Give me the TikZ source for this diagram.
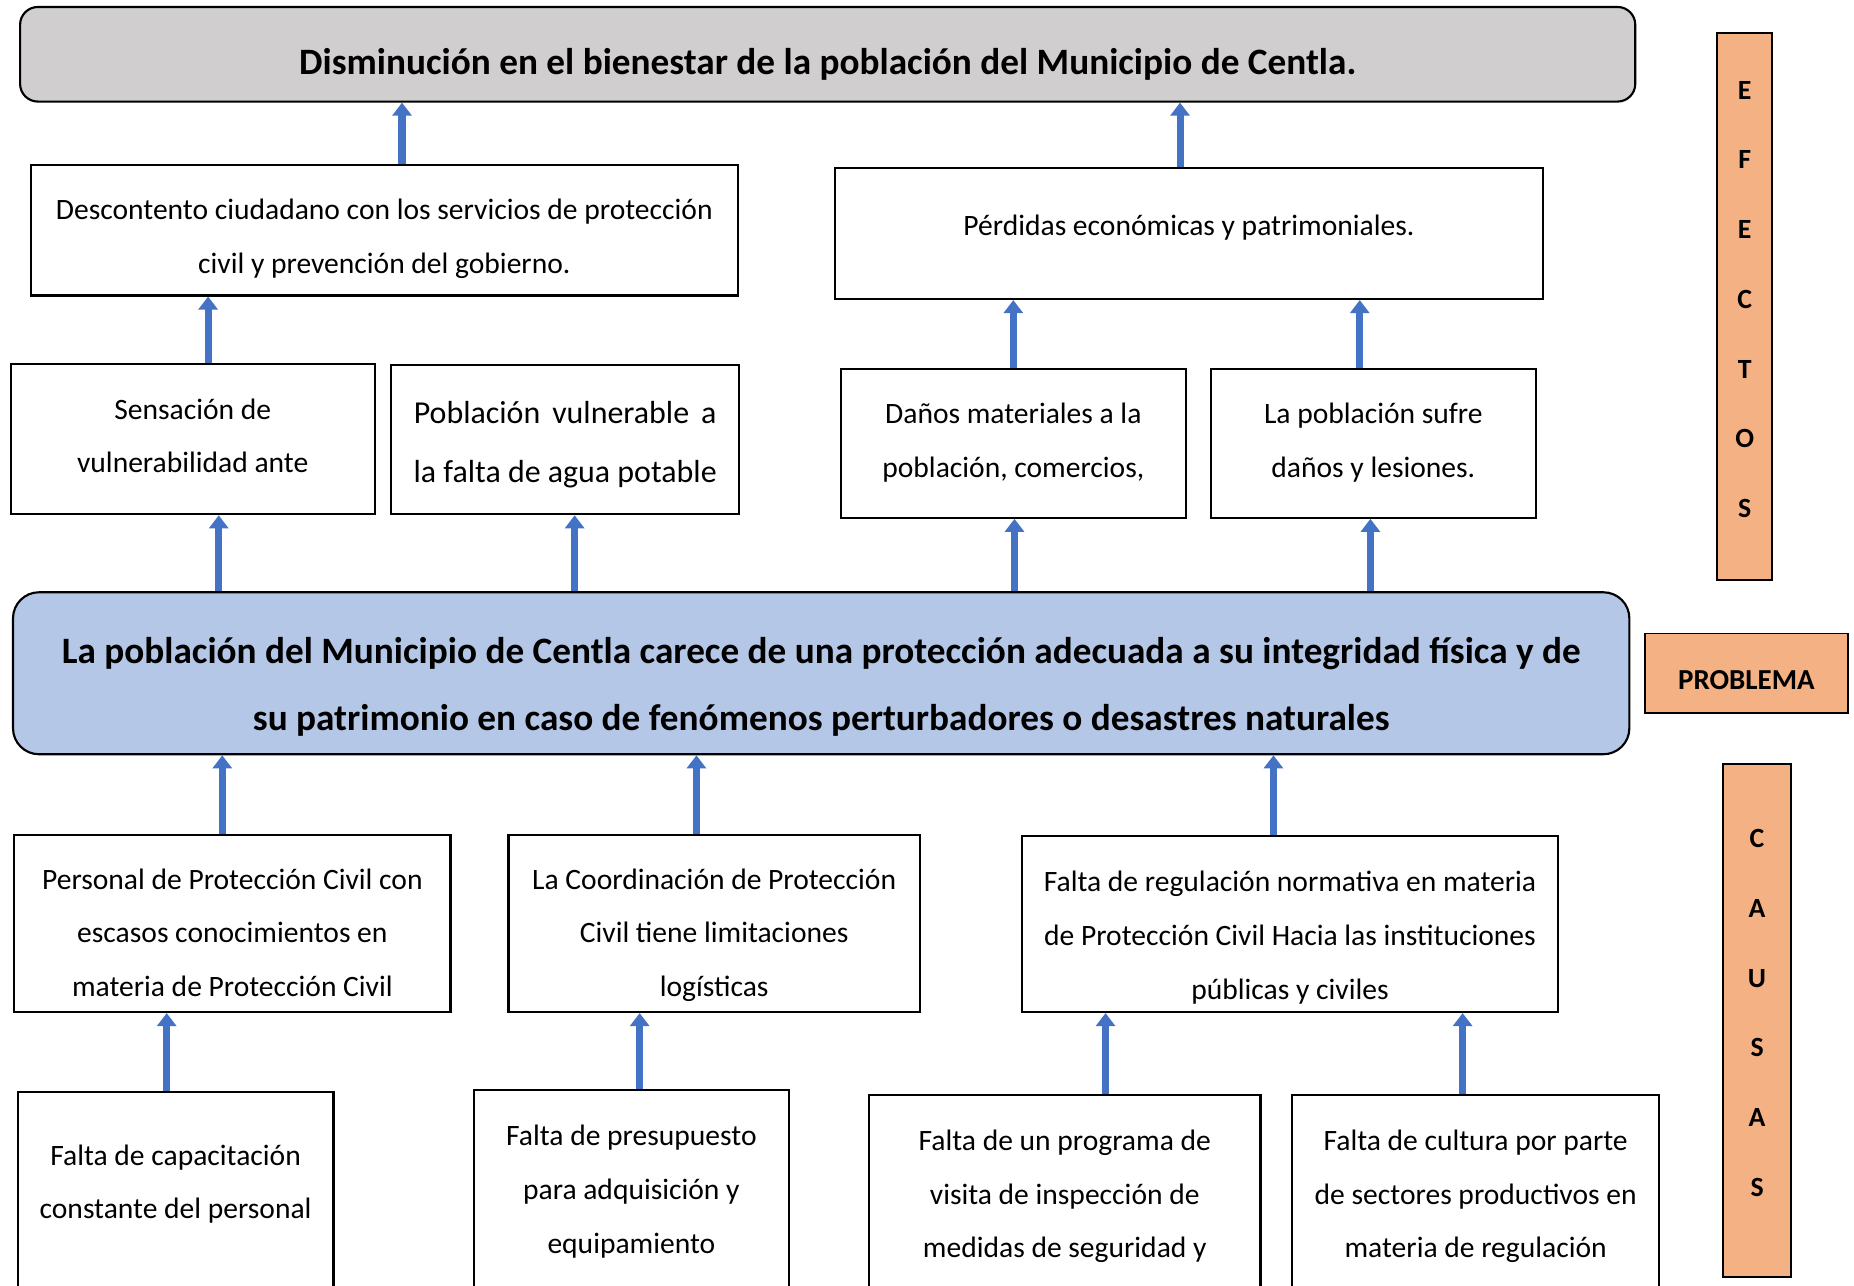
\documentclass[tikz,border=0pt]{standalone}
\usepackage{fontspec}
\setmainfont{Carlito}
\usetikzlibrary{arrows.meta, positioning}
\definecolor{TopGray}{HTML}{D0CECE}
\definecolor{ProbBlue}{HTML}{B4C7E7}
\definecolor{SideOrange}{HTML}{F4B183}
\definecolor{ArrowBlue}{HTML}{4472C4}

\begin{document}
\begin{tikzpicture}[
            x=1pt, y=-1pt,
            font=\fontsize{25pt}{45.5pt}\selectfont,
            effbox/.style={
                rectangle, draw=black, line width=1.8pt, fill=white,
                anchor=north, inner xsep=0pt, inner ysep=0pt,
                minimum height=0pt, align=center
            },
            topbox/.style={effbox, fill=TopGray, rounded corners=15pt,
                font=\bfseries\fontsize{31.5pt}{50pt}\selectfont},
            probbox/.style={effbox, fill=ProbBlue, rounded corners=22pt,
                font=\bfseries\fontsize{31.5pt}{57pt}\selectfont},
            sidebox/.style={effbox, fill=SideOrange, line width=1.6pt,
                font=\bfseries\fontsize{23.5pt}{59pt}\selectfont},
            uparrow/.style={draw=ArrowBlue, line width=6pt,
                -{Triangle[length=11pt,width=16pt]}}
        ]
        \useasboundingbox (0,0) rectangle (1568,1087);
        \clip (0,0) rectangle (1568,1087);

        % --- Top: main effect ---
        \node[topbox, minimum width=1366pt, text height=57pt, text depth=23pt] (fin) at (700,5)
            {Disminución en el bienestar de la población del Municipio de Centla.};

        % --- Effects ---
        \node[effbox, minimum width=598pt, text height=91pt, text depth=19pt] (desc) at (325,139)
            {Descontento ciudadano con los servicios de protección\\civil y prevención del gobierno.};
        \node[effbox, minimum width=599pt, text height=57pt, text depth=54pt] (perd) at (1005.5,141)
            {Pérdidas económicas y patrimoniales.};
        \node[effbox, minimum width=308pt, text height=92pt, text depth=35pt] (sens) at (163,307)
            {Sensación de\\vulnerabilidad ante};
        \node[effbox, minimum width=294pt, text height=99pt, text depth=27pt,
              font=\fontsize{27pt}{50pt}\selectfont] (pobv) at (478,308)
            {\makebox[256pt][s]{Población vulnerable a}\\la falta de agua potable};
        \node[effbox, minimum width=292pt, text height=92pt, text depth=34pt] (danos) at (857,311)
            {Daños materiales a la\\población, comercios,};
        \node[effbox, minimum width=275pt, text height=92pt, text depth=34pt] (sufre) at (1161.5,311)
            {La población sufre\\daños y lesiones.};

        % --- Problem ---
        \node[probbox, minimum width=1367pt, text height=117pt, text depth=20pt] (prob) at (694.5,500)
            {La población del Municipio de Centla carece de una protección adecuada a su integridad física y de\\
             su patrimonio en caso de fenómenos perturbadores o desastres naturales};

        % --- Causes ---
        \node[effbox, minimum width=369pt, text height=137pt, text depth=13pt] (pers) at (196.5,705)
            {Personal de Protección Civil con\\escasos conocimientos en\\materia de Protección Civil};
        \node[effbox, minimum width=348pt, text height=137pt, text depth=13pt] (coord) at (604,705)
            {La Coordinación de Protección\\Civil tiene limitaciones\\logísticas};
        \node[effbox, minimum width=454pt, text height=138pt, text depth=11pt] (regu) at (1091,706)
            {Falta de regulación normativa en materia\\de Protección Civil Hacia las instituciones\\públicas y civiles};
        \node[effbox, minimum width=267pt, text height=107pt, text depth=200pt] (capa) at (148.5,923)
            {Falta de capacitación\\constante del personal};
        \node[effbox, minimum width=266pt, text height=138pt, text depth=200pt] (presu) at (534,921)
            {Falta de presupuesto\\para adquisición y\\equipamiento};
        \node[effbox, minimum width=331pt, text height=138pt, text depth=200pt] (progr) at (900.5,925)
            {Falta de un programa de\\visita de inspección de\\medidas de seguridad y};
        \node[effbox, minimum width=310pt, text height=138pt, text depth=200pt] (cult) at (1248,925)
            {Falta de cultura por parte\\de sectores productivos en\\materia de regulación};

        % --- Side labels ---
        \node[sidebox, minimum width=47pt, text height=410pt, text depth=53pt] (efectos) at (1475.5,27)
            {E\\F\\E\\C\\T\\O\\S};
        \node[sidebox, minimum width=172pt, text height=47pt, text depth=20pt,
              font=\bfseries\fontsize{24.5pt}{28pt}\selectfont] (problema) at (1477,535) {PROBLEMA};
        \node[sidebox, minimum width=58pt, text height=366pt, text depth=68pt] (causas) at (1486,645)
            {C\\A\\U\\S\\A\\S};

        % --- Arrows: effects ---
        \path[uparrow] ([xshift=15pt]desc.north) -- ([xshift=15pt]desc.north |- fin.south);
        \path[uparrow] ([xshift=-7.5pt]perd.north) -- ([xshift=-7.5pt]perd.north |- fin.south);
        \path[uparrow] ([xshift=13pt]sens.north) -- ([xshift=13pt]sens.north |- desc.south);
        \path[uparrow] (danos.north) -- (danos.north |- perd.south);
        \path[uparrow] ([xshift=-11.5pt]sufre.north) -- ([xshift=-11.5pt]sufre.north |- perd.south);

        % --- Arrows: problem to effects ---
        \path[uparrow] ([xshift=22pt]sens.south |- prob.north) -- ([xshift=22pt]sens.south);
        \path[uparrow] ([xshift=8pt]pobv.south |- prob.north) -- ([xshift=8pt]pobv.south);
        \path[uparrow] ([xshift=1pt]danos.south |- prob.north) -- ([xshift=1pt]danos.south);
        \path[uparrow] ([xshift=-2.5pt]sufre.south |- prob.north) -- ([xshift=-2.5pt]sufre.south);

        % --- Arrows: causes ---
        \path[uparrow] ([xshift=-8.5pt]pers.north) -- ([xshift=-8.5pt]pers.north |- prob.south);
        \path[uparrow] ([xshift=-15pt]coord.north) -- ([xshift=-15pt]coord.north |- prob.south);
        \path[uparrow] ([xshift=-14pt]regu.north) -- ([xshift=-14pt]regu.north |- prob.south);
        \path[uparrow] ([xshift=-7.5pt]capa.north) -- ([xshift=-7.5pt]capa.north |- pers.south);
        \path[uparrow] ([xshift=7pt]presu.north) -- ([xshift=7pt]presu.north |- coord.south);
        \path[uparrow] ([xshift=34.5pt]progr.north) -- ([xshift=34.5pt]progr.north |- regu.south);
        \path[uparrow] ([xshift=-11pt]cult.north) -- ([xshift=-11pt]cult.north |- regu.south);

        \end{tikzpicture}
\end{document}
